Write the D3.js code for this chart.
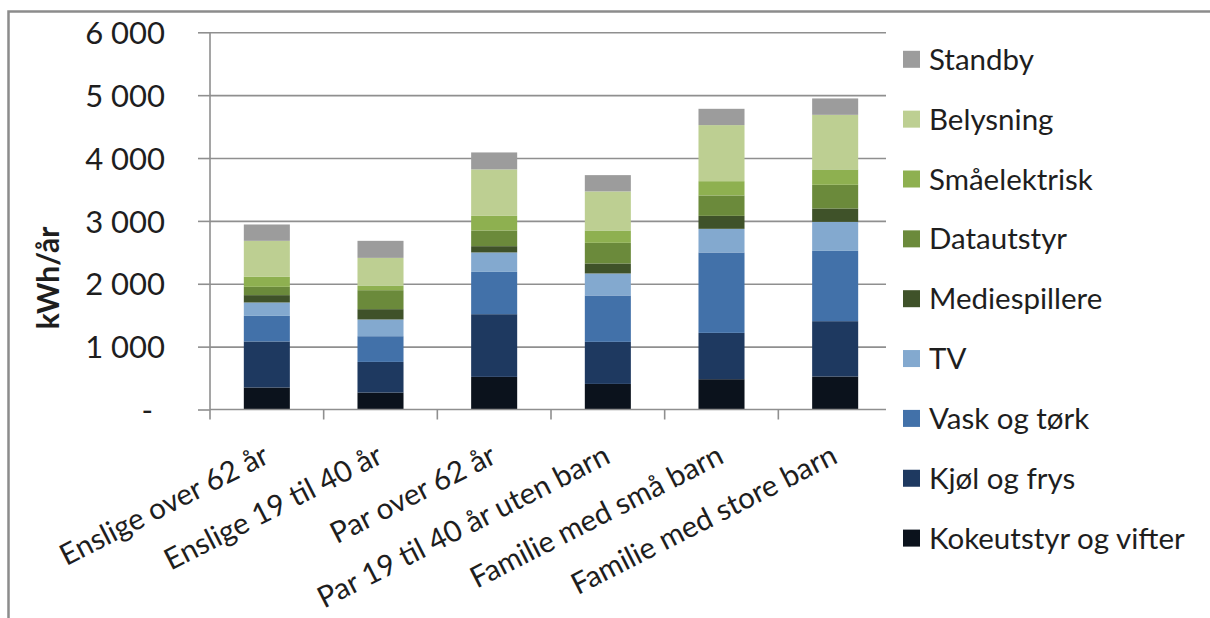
<!DOCTYPE html>
<html lang="no">
<head>
<meta charset="utf-8">
<title>Strømforbruk per husholdningstype</title>
<script src="https://cdn.jsdelivr.net/npm/d3@7"></script>
<style>
  html, body { margin: 0; padding: 0; background: #fff; }
  svg { display: block; }
  text { font-family: Lato, "Open Sans", "DejaVu Sans", sans-serif; fill: #1e1e1e; }
</style>
</head>
<body>
<svg id="chart" width="1210" height="618"></svg>
<script>
// Household types along the x axis
const categories = [
  "Enslige over 62 år",
  "Enslige 19 til 40 år",
  "Par over 62 år",
  "Par 19 til 40 år uten barn",
  "Familie med små barn",
  "Familie med store barn"
];

// Yearly consumption per end use, kWh/år (bottom of stack first)
const kokeutstyr   = [350, 270, 519, 407, 482, 525];
const kjolFrys     = [732, 487, 997, 669, 737, 880];
const vaskTork     = [407, 409, 673, 738, 1279, 1118];
const tv           = [213, 266, 309, 350, 376, 462];
const mediespiller = [117, 164, 100, 159, 206, 213];
const datautstyr   = [132, 302, 250, 328, 325, 376];
const smaelektrisk = [159, 75, 232, 197, 227, 245];
const belysning    = [573, 439, 739, 621, 892, 868];
const standby      = [260, 271, 270, 259, 259, 261];

const seriesNames = [
  "Kokeutstyr og vifter", "Kjøl og frys", "Vask og tørk", "TV",
  "Mediespillere", "Datautstyr", "Småelektrisk", "Belysning", "Standby"
];
const seriesValues = [
  kokeutstyr, kjolFrys, vaskTork, tv, mediespiller,
  datautstyr, smaelektrisk, belysning, standby
];
const seriesColors = [
  "#0b121c", "#1e3960", "#4271a9", "#83a9cf", "#3f5229",
  "#6b8a3b", "#8eb050", "#bdcf92", "#9c9c9c"
];

// Y axis ticks and their printed labels
const yTicks = [0, 1000, 2000, 3000, 4000, 5000, 6000];
const yTickLabels = ["-", "1 000", "2 000", "3 000", "4 000", "5 000", "6 000"];

// Rows for d3.stack
const rows = categories.map((c, i) => {
  const r = { category: c };
  seriesNames.forEach((s, k) => { r[s] = seriesValues[k][i]; });
  return r;
});
const stacked = d3.stack().keys(seriesNames)(rows);

const svg = d3.select("#chart");

// Outer chart frame (left and top edges visible)
svg.append("path")
  .attr("d", "M8.5,618 V11.5 H1210")
  .attr("fill", "none")
  .attr("stroke", "#8c8c8c")
  .attr("stroke-width", 2.5);

const plot = { left: 210, right: 892, top: 32.3, bottom: 409.5, gridEnd: 886 };

const x = d3.scaleBand().domain(categories).range([plot.left, plot.right]).padding(0);
const y = d3.scaleLinear().domain([0, 6000]).range([plot.bottom, plot.top]);
const color = d3.scaleOrdinal().domain(seriesNames).range(seriesColors);
const barWidth = x.bandwidth() * 0.405;

// Horizontal gridlines
svg.append("g")
  .attr("transform", `translate(${plot.left},0)`)
  .call(d3.axisLeft(y).tickValues(yTicks.slice(1)).tickSize(-(plot.gridEnd - plot.left)).tickFormat(""))
  .call(g => g.select(".domain").remove())
  .call(g => g.selectAll("line").attr("stroke", "#8f8f8f").attr("stroke-width", 1.6));

// Stacked bars
svg.append("g")
  .selectAll("g")
  .data(stacked)
  .join("g")
  .attr("fill", d => color(d.key))
  .selectAll("rect")
  .data(d => d)
  .join("rect")
  .attr("x", d => x(d.data.category) + (x.bandwidth() - barWidth) / 2)
  .attr("width", barWidth)
  .attr("y", d => y(d[1]))
  .attr("height", d => y(d[0]) - y(d[1]));

// Y axis
const yAxis = svg.append("g")
  .attr("transform", `translate(${plot.left},0)`)
  .call(d3.axisLeft(y).tickValues(yTicks).tickSize(12).tickPadding(33)
    .tickFormat((d, i) => yTickLabels[i]));
yAxis.select(".domain").attr("stroke", "#8f8f8f").attr("stroke-width", 1.6)
  .attr("d", `M0,${plot.top}V${plot.bottom}`);
yAxis.selectAll(".tick line").attr("stroke", "#8f8f8f").attr("stroke-width", 1.6);
yAxis.selectAll(".tick text")
  .attr("font-size", 31)
  .attr("fill", "#262626")
  .attr("dy", "0.36em")
  .attr("dx", (d, i) => (i === 0 ? -12 : 0));

// X axis line and band ticks
const xAxis = svg.append("g").attr("transform", `translate(0,${plot.bottom})`);
xAxis.append("line")
  .attr("x1", plot.left).attr("x2", plot.gridEnd)
  .attr("stroke", "#8f8f8f").attr("stroke-width", 1.6);
xAxis.selectAll("line.tick")
  .data(categories)
  .join("line")
  .attr("class", "tick")
  .attr("x1", d => x(d)).attr("x2", d => x(d))
  .attr("y1", 0).attr("y2", 10)
  .attr("stroke", "#8f8f8f").attr("stroke-width", 1.6);

// Rotated category labels
svg.append("g")
  .selectAll("text")
  .data(categories)
  .join("text")
  .attr("transform", d => `translate(${x(d) + x.bandwidth() / 2 + 4},462) rotate(-27)`)
  .attr("text-anchor", "end")
  .attr("font-size", 29.5)
  .attr("fill", "#1e1e1e")
  .text(d => d);

// Y axis title
svg.append("text")
  .attr("transform", "translate(59,278) rotate(-90)")
  .attr("text-anchor", "middle")
  .attr("font-size", 30)
  .attr("font-weight", "bold")
  .attr("fill", "#111")
  .text("kWh/år");

// Legend (top of stack listed first)
const legendItems = seriesNames.slice().reverse();
const legend = svg.append("g")
  .selectAll("g")
  .data(legendItems)
  .join("g")
  .attr("transform", (d, i) => `translate(903,${59.3 + i * 59.85})`);
legend.append("rect")
  .attr("x", 0).attr("y", -8.5)
  .attr("width", 17).attr("height", 17)
  .attr("fill", d => color(d));
legend.append("text")
  .attr("x", 26)
  .attr("dy", "0.36em")
  .attr("font-size", 29.5)
  .attr("fill", "#1e1e1e")
  .text(d => d);
</script>
</body>
</html>
